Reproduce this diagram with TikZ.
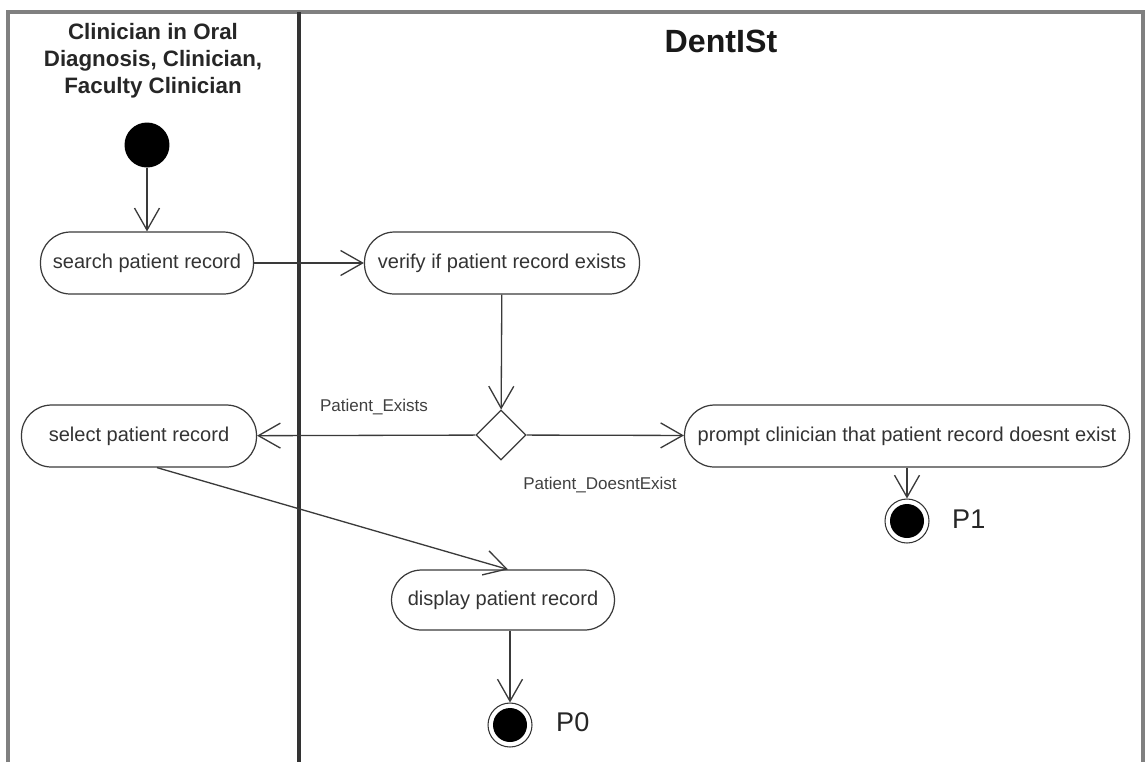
\documentclass[tikz,border=0pt]{standalone}
\usepackage{fontspec}
\setmainfont{Liberation Sans}
\usetikzlibrary{arrows.meta,positioning,shapes.geometric}

\definecolor{framegray}{HTML}{808080}
\definecolor{linegray}{HTML}{3A3A3A}

\begin{document}
\begin{tikzpicture}[
    x=0.02cm, y=-0.02cm,
    activity/.style={draw=linegray, line width=0.7pt, rectangle, rounded corners=0.6cm,
        minimum height=1.24cm, inner sep=0pt, font=\fontsize{11.4}{13}\selectfont, text=black!80},
    startnode/.style={circle, fill=black, minimum size=0.9cm, inner sep=0pt},
    finalnode/.style={circle, draw=black!80, line width=0.6pt, minimum size=0.88cm, inner sep=0pt,
        path picture={\fill[black] (path picture bounding box.center) circle (0.34cm);}},
    decision/.style={draw=linegray, line width=0.7pt, diamond, minimum size=1cm, inner sep=0pt},
    guard/.style={font=\fontsize{9.7}{11}\selectfont, text=black!75},
    arr/.style={-{Straight Barb[length=4.4mm,width=5mm]}, line width=0.75pt, draw=linegray}
]
\useasboundingbox (0,0) rectangle (1145,762);

% swimlanes
\draw[framegray, line width=2.2pt] (8,762) -- (8,12) -- (1143,12) -- (1143,762);
\draw[black!80, line width=2.2pt] (299,12) -- (299,762);
\node[align=center, font=\fontsize{12.7}{15.3}\selectfont\bfseries, text=black!85] (laneclin) at (153,61)
    {Clinician in Oral\\Diagnosis, Clinician,\\Faculty Clinician};
\node[font=\fontsize{18.3}{20}\selectfont\bfseries, text=black!90] (lanedent) at (721,41) {DentISt};

% nodes
\node[startnode] (start) at (147,145) {};
\node[activity, minimum width=4.26cm] (search) at (147,263) {search patient record};
\node[activity, minimum width=5.5cm] (verify) at (502,263) {verify if patient record exists};
\node[decision] (exists) at (501,435) {};
\node[activity, minimum width=4.7cm] (select) at (139,436) {select patient record};
\node[activity, minimum width=8.9cm] (prompt) at (907,436) {prompt clinician that patient record doesnt exist};
\node[activity, minimum width=4.46cm, minimum height=1.2cm] (display) at (503,600) {display patient record};
\node[finalnode] (pzero) at (510,725) {};
\node[finalnode] (pone) at (907,521) {};
\node[anchor=west, font=\fontsize{15.4}{17}\selectfont, text=black!85] (pzerolbl) at (550,722) {P0};
\node[anchor=west, font=\fontsize{15.4}{17}\selectfont, text=black!85] (ponelbl) at (946,519) {P1};

% guards
\node[guard] (gexists) at (374,407) {Patient\_Exists};
\node[guard] (gnot) at (600,485) {Patient\_DoesntExist};

% flows
\draw[arr] (start) -- (search);
\draw[arr] (search) -- (verify);
\draw[arr] (verify) -- (exists);
\draw[arr] (exists) -- (select);
\draw[arr] (exists) -- (prompt);
\draw[arr] ([xshift=0.36cm]select.south) -- ([xshift=0.1cm]display.north);
\draw[arr] (pzero |- display.south) -- (pzero);
\draw[arr] (prompt) -- (pone);
\end{tikzpicture}
\end{document}
